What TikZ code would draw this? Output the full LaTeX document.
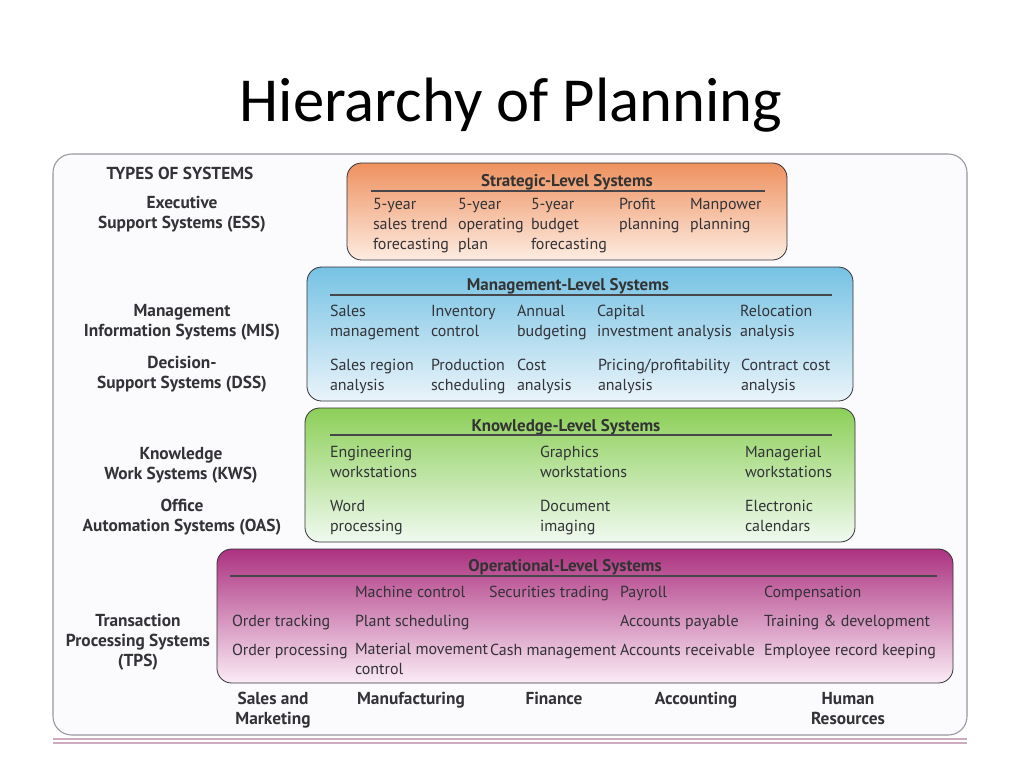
\documentclass[tikz,border=0pt]{standalone}
\usepackage{fontspec}
\setmainfont{PT Sans}
\newfontfamily\titlefont{Carlito}
\usetikzlibrary{positioning}
\definecolor{inkgray}{RGB}{50,50,55}
\definecolor{framegray}{RGB}{150,150,160}
\definecolor{framefill}{RGB}{251,251,253}
\definecolor{framepink}{RGB}{205,170,190}
\definecolor{stratTop}{RGB}{238,145,95}
\definecolor{stratBot}{RGB}{253,236,226}
\definecolor{mgmtTop}{RGB}{118,194,228}
\definecolor{mgmtBot}{RGB}{234,244,250}
\definecolor{knowTop}{RGB}{140,207,88}
\definecolor{knowBot}{RGB}{240,250,240}
\definecolor{operTop}{RGB}{172,50,128}
\definecolor{operBot}{RGB}{251,236,246}
\tikzset{
	x=0.75pt, y=-0.75pt,
	every node/.style={anchor=north west, inner sep=0, outer sep=0, align=left, text=inkgray},
	item/.style={font=\fontsize{12}{15}\selectfont, execute at begin node=\strut},
	typelabel/.style={font=\bfseries\fontsize{13}{15}\selectfont, anchor=north, align=center, execute at begin node=\strut},
	levelhead/.style={font=\bfseries\fontsize{12.7}{14}\selectfont, anchor=base, text=black!80},
	level/.style={draw=inkgray, line width=0.6pt, rounded corners=11pt},
	headrule/.style={draw=inkgray!90, line width=0.8pt},
}
\begin{document}
\begin{tikzpicture}
	\useasboundingbox (0,0) rectangle (1024,768);
	\node (title) [anchor=base, font=\titlefont\fontsize{47}{50}\selectfont, text=black] at (511,121) {Hierarchy of Planning};
	
	% frame of the figure
	\draw[framegray, fill=framefill, rounded corners=14pt, line width=0.8pt] (53,154) rectangle (967,735);
	\draw[framepink, line width=0.8pt] (53,739) -- (967,739);
	\draw[framepink, line width=0.8pt] (53,743) -- (967,743);
	
	% level boxes
	\draw[level, top color=stratTop, bottom color=stratBot] (347,163) rectangle (787,260);
	\draw[level, top color=mgmtTop, bottom color=mgmtBot] (307,267) rectangle (853,401);
	\draw[level, top color=knowTop, bottom color=knowBot] (305,408) rectangle (855,542);
	\draw[level, top color=operTop, bottom color=operBot] (217,549) rectangle (953,683);
	
	\node (strathead) [levelhead] at (567,186) {Strategic-Level Systems};
	\node (mgmthead) [levelhead] at (568,290) {Management-Level Systems};
	\node (knowhead) [levelhead] at (566,431) {Knowledge-Level Systems};
	\node (operhead) [levelhead] at (565,571) {Operational-Level Systems};
	\draw[headrule] (371,191) -- (765,191);
	\draw[headrule] (330,295) -- (832,295);
	\draw[headrule] (330,435) -- (832,435);
	\draw[headrule] (230,576) -- (937,576);
	
	% types of systems
	\node (types) [typelabel] at (180,165) {TYPES OF SYSTEMS};
	\node (ess) [typelabel] at (182,196) {Executive\\Support Systems (ESS)};
	\node (mis) [typelabel] at (182,304) {Management\\Information Systems (MIS)};
	\node (dss) [typelabel] at (182,356) {Decision-\\Support Systems (DSS)};
	\node (kws) [typelabel] at (181,447) {Knowledge\\Work Systems (KWS)};
	\node (oas) [typelabel] at (182,499) {Office\\Automation Systems (OAS)};
	\node (tps) [typelabel] at (138,614) {Transaction\\Processing Systems\\(TPS)};
	
	% strategic level
	\node (salestrend) [item] at (373,198) {5-year\\sales trend\\forecasting};
	\node (operplan) [item] at (458,198) {5-year\\operating\\plan};
	\node (budgetfc) [item] at (531,198) {5-year\\budget\\forecasting};
	\node (profit) [item] at (619,198) {Profit\\planning};
	\node (manpower) [item] at (690,198) {Manpower\\planning};
	
	% management level
	\node (salesmgmt) [item] at (330,305) {Sales\\management};
	\node (inventory) [item] at (431,305) {Inventory\\control};
	\node (annual) [item] at (517,305) {Annual\\budgeting};
	\node (capital) [item] at (597,305) {Capital\\investment analysis};
	\node (relocation) [item] at (740,305) {Relocation\\analysis};
	\node (salesregion) [item] at (330,359) {Sales region\\analysis};
	\node (production) [item] at (431,359) {Production\\scheduling};
	\node (cost) [item] at (517,359) {Cost\\analysis};
	\node (pricing) [item] at (598,359) {Pricing/profitability\\analysis};
	\node (contract) [item] at (741,359) {Contract cost\\analysis};
	
	% knowledge level
	\node (engws) [item] at (330,446) {Engineering\\workstations};
	\node (graphws) [item] at (540,446) {Graphics\\workstations};
	\node (mgrws) [item] at (745,446) {Managerial\\workstations};
	\node (word) [item] at (330,500) {Word\\processing};
	\node (docimg) [item] at (540,500) {Document\\imaging};
	\node (calendars) [item] at (745,500) {Electronic\\calendars};
	
	% operational level
	\node (ordertrack) [item] at (232,612) {Order tracking};
	\node (orderproc) [item] at (232,641) {Order processing};
	\node (machine) [item] at (355,583) {Machine control};
	\node (plant) [item] at (355,612) {Plant scheduling};
	\node (material) [item] at (355,643) {Material movement\\control};
	\node (securities) [item] at (489,583) {Securities trading};
	\node (cash) [item] at (490,641) {Cash management};
	\node (payroll) [item] at (620,583) {Payroll};
	\node (payable) [item] at (620,612) {Accounts payable};
	\node (receivable) [item] at (620,641) {Accounts receivable};
	\node (compensation) [item] at (764,583) {Compensation};
	\node (training) [item] at (764,612) {Training \& development};
	\node (employee) [item] at (764,641) {Employee record keeping};
	
	% functional areas
	\node (sales) [typelabel] at (273,692) {Sales and\\Marketing};
	\node (manuf) [typelabel] at (411,690) {Manufacturing};
	\node (finance) [typelabel] at (554,690) {Finance};
	\node (accounting) [typelabel] at (696,690) {Accounting};
	\node (hr) [typelabel] at (848,692) {Human\\Resources};
\end{tikzpicture}
\end{document}
